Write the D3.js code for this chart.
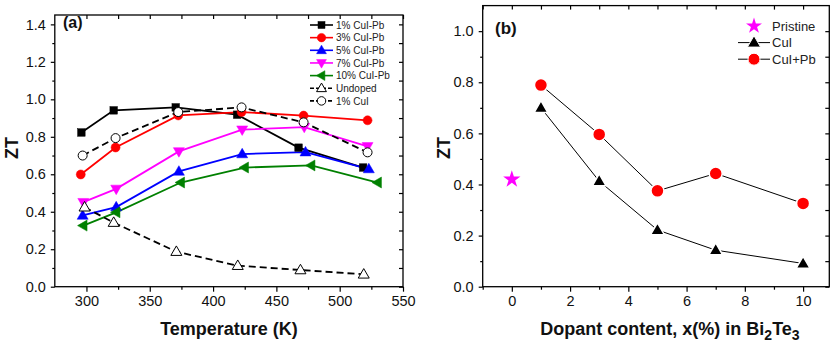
<!DOCTYPE html>
<html><head><meta charset="utf-8">
<script src="https://cdn.jsdelivr.net/npm/d3@7"></script>
<style>
body{margin:0;background:#fff;}
svg{display:block;font-family:"Liberation Sans",Arial,sans-serif;}
</style></head>
<body><svg id="c" width="836" height="342"></svg>
<script>
// ---------- Panel (a) data ----------
const seriesNamesA = ["1% CuI-Pb","3% CuI-Pb","5% CuI-Pb","7% CuI-Pb","10% CuI-Pb","Undoped","1% CuI"];
const tempCuIPb1  = [296, 321.5, 370.5, 419, 467.5, 518.5];
const ztCuIPb1    = [0.823, 0.941, 0.957, 0.918, 0.742, 0.636];
const tempCuIPb3  = [295.5, 323, 372.5, 422.5, 471.5, 522];
const ztCuIPb3    = [0.599, 0.743, 0.914, 0.932, 0.913, 0.888];
const tempCuIPb5  = [297, 323.5, 373, 423, 473, 523];
const ztCuIPb5    = [0.38, 0.425, 0.615, 0.708, 0.718, 0.628];
const tempCuIPb7  = [297.5, 323.5, 373, 423, 472, 522];
const ztCuIPb7    = [0.451, 0.522, 0.722, 0.838, 0.852, 0.749];
const tempCuIPb10 = [297.5, 323.5, 374.5, 425, 477.5, 530];
const ztCuIPb10   = [0.326, 0.397, 0.556, 0.636, 0.647, 0.556];
const tempUndoped = [298.5, 321.5, 371, 419.5, 469, 519];
const ztUndoped   = [0.424, 0.342, 0.187, 0.112, 0.089, 0.066];
const tempCuI1    = [297, 323, 372.5, 422.5, 471.5, 522];
const ztCuI1      = [0.700, 0.793, 0.932, 0.957, 0.877, 0.717];
const xTicksA = [300, 350, 400, 450, 500, 550];
const yTicksA = [0.0, 0.2, 0.4, 0.6, 0.8, 1.0, 1.2, 1.4];

// ---------- Panel (b) data ----------
const dopantX     = [1, 3, 5, 7, 10];
const ztCuI       = [0.70, 0.413, 0.222, 0.143, 0.091];
const ztCuIPb     = [0.789, 0.596, 0.375, 0.443, 0.326];
const pristineX   = [0];
const pristineZT  = [0.42];
const seriesNamesB = ["Pristine","CuI","CuI+Pb"];
const xTicksB = [0, 2, 4, 6, 8, 10];
const yTicksB = [0.0, 0.2, 0.4, 0.6, 0.8, 1.0];

const svg = d3.select("#c");
const FONT = '"Liberation Sans",Arial,sans-serif';

function frame(g, x, y, xMaj, xMin, yMaj, yMin, fmtX, fmtY){
  const [x0,x1] = x.range(), [y0,y1] = y.range();
  const style = s => { s.select(".domain").remove(); s.selectAll("line").attr("stroke","#000").attr("stroke-width",1.2);
    s.selectAll("text").attr("font-family",FONT).attr("font-size",14.5).attr("fill","#111"); };
  g.append("g").attr("transform",`translate(0,${y0})`).call(d3.axisBottom(x).tickValues(xMaj).tickSize(5).tickPadding(4).tickFormat(fmtX)).call(style);
  g.append("g").attr("transform",`translate(0,${y0})`).call(d3.axisBottom(x).tickValues(xMin).tickSize(3).tickFormat("")).call(style);
  g.append("g").attr("transform",`translate(0,${y1})`).call(d3.axisTop(x).tickValues(xMaj.concat(xMin)).tickSize(-4).tickFormat("")).call(style);
  g.append("g").attr("transform",`translate(${x0},0)`).call(d3.axisLeft(y).tickValues(yMaj).tickSize(4).tickPadding(5).tickFormat(fmtY)).call(style);
  g.append("g").attr("transform",`translate(${x0},0)`).call(d3.axisLeft(y).tickValues(yMin).tickSize(2.5).tickFormat("")).call(style);
  g.append("g").attr("transform",`translate(${x1},0)`).call(d3.axisRight(y).tickValues(yMaj.concat(yMin)).tickSize(-4).tickFormat("")).call(style);
  g.append("rect").attr("x",x0).attr("y",y1).attr("width",x1-x0).attr("height",y0-y1)
    .attr("fill","none").attr("stroke","#000").attr("stroke-width",1.3);
}

// ================= Panel (a) =================
const xA = d3.scaleLinear().domain([275,550]).range([54.8,403]);
const yA = d3.scaleLinear().domain([0,1.45]).range([286.7,15]);
const gA = svg.append("g");
frame(gA, xA, yA, xTicksA, [325,375,425,475,525], yTicksA, [0.1,0.3,0.5,0.7,0.9,1.1,1.3],
      d3.format("d"), d3.format(".1f"));

const seriesA = [
  {name:seriesNamesA[0], t:tempCuIPb1,  z:ztCuIPb1,  color:"#000",    fill:"#000",    sym:"square",  dash:null},
  {name:seriesNamesA[1], t:tempCuIPb3,  z:ztCuIPb3,  color:"#ff0000", fill:"#ff0000", sym:"circle",  dash:null},
  {name:seriesNamesA[2], t:tempCuIPb5,  z:ztCuIPb5,  color:"#0000ff", fill:"#0000ff", sym:"up",      dash:null},
  {name:seriesNamesA[3], t:tempCuIPb7,  z:ztCuIPb7,  color:"#ff00ff", fill:"#ff00ff", sym:"down",    dash:null},
  {name:seriesNamesA[4], t:tempCuIPb10, z:ztCuIPb10, color:"#008000", fill:"#008000", sym:"left",    dash:null},
  {name:seriesNamesA[5], t:tempUndoped, z:ztUndoped, color:"#000",    fill:"#fff",    sym:"up",      dash:"7,4"},
  {name:seriesNamesA[6], t:tempCuI1,    z:ztCuI1,    color:"#000",    fill:"#fff",    sym:"circle",  dash:"7,4"}
];

function marker(g, sym, cx, cy, fill, stroke, size, sw){
  let p;
  if(sym==="square"){
    p = g.append("rect").attr("x",cx-size/2).attr("y",cy-size/2).attr("width",size).attr("height",size);
  } else if(sym==="circle"){
    p = g.append("circle").attr("cx",cx).attr("cy",cy).attr("r",size/2);
  } else if(sym==="star"){
    p = g.append("path").attr("d",d3.symbol(d3.symbolStar, size*size*0.55)()).attr("transform",`translate(${cx},${cy})`);
  } else {
    const h = size*0.5, w = size*0.55;
    let pts;
    if(sym==="up") pts=[[0,-h*1.15],[w,h*0.75],[-w,h*0.75]];
    else if(sym==="down") pts=[[0,h*1.15],[w,-h*0.75],[-w,-h*0.75]];
    else pts=[[-h*1.15,0],[h*0.75,-w],[h*0.75,w]];
    p = g.append("path").attr("d","M"+pts.map(q=>[cx+q[0],cy+q[1]].join(",")).join("L")+"Z");
  }
  p.attr("fill",fill).attr("stroke",stroke).attr("stroke-width",sw);
  return p;
}

const lineA = d3.line();
seriesA.forEach(s=>{
  const pts = s.t.map((t,i)=>[xA(t), yA(s.z[i])]);
  gA.append("path").attr("d",lineA(pts)).attr("fill","none").attr("stroke",s.color)
    .attr("stroke-width",1.8).attr("stroke-dasharray",s.dash);
});
seriesA.forEach(s=>{
  s.t.forEach((t,i)=>{
    const open = s.fill==="#fff";
    marker(gA, s.sym, xA(t), yA(s.z[i]), s.fill, open? "#000" : s.color, s.sym==="square"?7.5:(s.sym==="circle"?9:10), open?1:0.5);
  });
});

// legend (a)
seriesA.forEach((s,i)=>{
  const ly = 25 + i*12.65;
  gA.append("line").attr("x1",310).attr("x2",333).attr("y1",ly).attr("y2",ly)
    .attr("stroke",s.color).attr("stroke-width",1.6).attr("stroke-dasharray",s.dash?"4,2":null);
  const open = s.fill==="#fff";
  marker(gA, s.sym, 321.5, ly, s.fill, open?"#000":s.color, s.sym==="square"?7:(s.sym==="circle"?8.5:9), open?1:0.5);
  gA.append("text").attr("x",336).attr("y",ly+3.6).attr("font-family",FONT).attr("font-size",10)
    .attr("fill","#222").text(s.name);
});

gA.append("text").attr("x",63).attr("y",28).attr("font-family",FONT).attr("font-weight","bold")
  .attr("font-size",16).attr("fill","#111").text("(a)");
gA.append("text").attr("x",229).attr("y",335).attr("text-anchor","middle").attr("font-family",FONT)
  .attr("font-weight","bold").attr("font-size",18).attr("fill","#111").text("Temperature (K)");
gA.append("text").attr("transform","translate(18,148) rotate(-90)").attr("text-anchor","middle")
  .attr("font-family",FONT).attr("font-weight","bold").attr("font-size",18).attr("fill","#111").text("ZT");

// ================= Panel (b) =================
const xB = d3.scaleLinear().domain([-1,10.9]).range([482.7,829.3]);
const yB = d3.scaleLinear().domain([0,1.1]).range([286.7,5.6]);
const gB = svg.append("g");
frame(gB, xB, yB, xTicksB, [-1,1,3,5,7,9], yTicksB, [0.1,0.3,0.5,0.7,0.9],
      d3.format("d"), d3.format(".1f"));

const lineB = d3.line();
gB.append("path").attr("d",lineB(dopantX.map((x,i)=>[xB(x),yB(ztCuI[i])])))
  .attr("fill","none").attr("stroke","#000").attr("stroke-width",1);
gB.append("path").attr("d",lineB(dopantX.map((x,i)=>[xB(x),yB(ztCuIPb[i])])))
  .attr("fill","none").attr("stroke","#000").attr("stroke-width",1);
dopantX.forEach((x,i)=>{
  marker(gB,"up",xB(x),yB(ztCuI[i]),"#000","#fff",12.5,1.5);
  marker(gB,"circle",xB(x),yB(ztCuIPb[i]),"#ff0000","#fff",13,1.5);
});
pristineX.forEach((x,i)=>{
  marker(gB,"star",xB(x),yB(pristineZT[i]),"#ff00ff","none",13,0);
});

// legend (b)
const legB = [
  {name:seriesNamesB[0], sym:"star",  fill:"#ff00ff", line:false},
  {name:seriesNamesB[1], sym:"up",    fill:"#000",    line:true},
  {name:seriesNamesB[2], sym:"circle",fill:"#ff0000", line:true}
];
legB.forEach((s,i)=>{
  const ly = 26 + i*16.6;
  if(s.line) gB.append("line").attr("x1",738).attr("x2",770).attr("y1",ly).attr("y2",ly)
    .attr("stroke","#000").attr("stroke-width",1);
  marker(gB, s.sym, 754, ly, s.fill, s.sym==="star"?"none":"#fff", 12, s.sym==="star"?0:1);
  gB.append("text").attr("x",772).attr("y",ly+4.5).attr("font-family",FONT).attr("font-size",13)
    .attr("fill","#222").text(s.name);
});

gB.append("text").attr("x",495).attr("y",34).attr("font-family",FONT).attr("font-weight","bold")
  .attr("font-size",17).attr("fill","#111").text("(b)");
const xt = gB.append("text").attr("x",670).attr("y",335).attr("text-anchor","middle").attr("font-family",FONT)
  .attr("font-weight","bold").attr("font-size",18).attr("fill","#111");
xt.append("tspan").text("Dopant content, x(%) in Bi");
xt.append("tspan").attr("font-size",14).attr("dy",5).text("2");
xt.append("tspan").attr("dy",-5).text("Te");
xt.append("tspan").attr("font-size",14).attr("dy",5).text("3");
gB.append("text").attr("transform","translate(450,148) rotate(-90)").attr("text-anchor","middle")
  .attr("font-family",FONT).attr("font-weight","bold").attr("font-size",18).attr("fill","#111").text("ZT");
</script></body></html>
